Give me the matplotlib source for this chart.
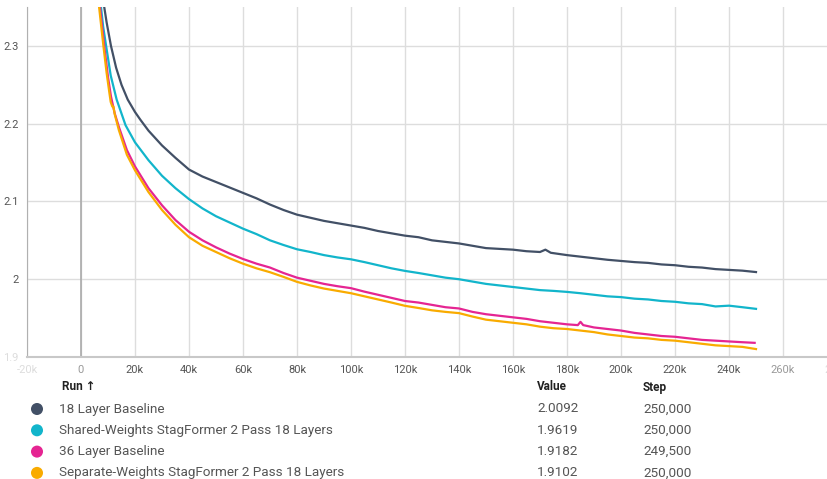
import matplotlib.pyplot as plt
from matplotlib.ticker import FuncFormatter

plt.rcParams['font.family'] = ['Roboto', 'DejaVu Sans']

runs = ["18 Layer Baseline",
        "Shared-Weights StagFormer 2 Pass 18 Layers",
        "36 Layer Baseline",
        "Separate-Weights StagFormer 2 Pass 18 Layers"]
colors = ["#425066", "#12b5cb", "#e52592", "#f9ab00"]
last_values = ["2.0092", "1.9619", "1.9182", "1.9102"]
last_steps = ["250,000", "250,000", "249,500", "250,000"]

# steps in thousands
steps_18 = [8.6, 9.5, 11.1, 13, 15, 17.3, 20, 22, 25, 30, 35, 40, 45, 50, 55, 60, 65, 70, 75, 80,
            85, 90, 95, 100, 105, 110, 115, 120, 125, 130, 135, 140, 145, 150, 155, 160, 165, 170,
            172, 174, 180, 185, 190, 195, 200, 205, 210, 215, 220, 225, 230, 235, 240, 245, 250]
loss_18 = [2.35, 2.33, 2.30, 2.272, 2.25, 2.231, 2.215, 2.205, 2.191, 2.172, 2.156, 2.141, 2.132,
           2.125, 2.118, 2.111, 2.104, 2.096, 2.089, 2.083, 2.079, 2.075, 2.072, 2.069, 2.066,
           2.062, 2.059, 2.056, 2.054, 2.050, 2.048, 2.046, 2.043, 2.040, 2.039, 2.038, 2.036,
           2.035, 2.038, 2.034, 2.031, 2.029, 2.027, 2.025, 2.0235, 2.022, 2.021, 2.019, 2.018,
           2.016, 2.015, 2.013, 2.012, 2.011, 2.0092]

steps_shared = [7.4, 8.2, 9.3, 11, 13.2, 16.5, 20, 25, 30, 35, 40, 45, 50, 55, 60, 65, 70, 75, 80,
                85, 90, 95, 100, 105, 110, 115, 120, 125, 130, 135, 140, 145, 150, 155, 160, 165,
                170, 175, 180, 185, 190, 195, 200, 205, 210, 215, 220, 225, 230, 235, 240, 245, 250]
loss_shared = [2.35, 2.325, 2.30, 2.262, 2.231, 2.198, 2.176, 2.153, 2.133, 2.117, 2.103, 2.091,
               2.081, 2.073, 2.065, 2.058, 2.050, 2.044, 2.0385, 2.035, 2.031, 2.028, 2.0256,
               2.022, 2.018, 2.014, 2.0107, 2.008, 2.005, 2.002, 2.000, 1.997, 1.994, 1.992,
               1.990, 1.988, 1.986, 1.985, 1.9837, 1.982, 1.980, 1.978, 1.977, 1.975, 1.974,
               1.972, 1.971, 1.969, 1.968, 1.965, 1.966, 1.964, 1.9619]

steps_36 = [7, 7.8, 8.6, 10, 11.1, 12.5, 14.1, 17, 20, 25, 30, 35, 40, 45, 50, 55, 60, 65, 70, 75,
            80, 85, 90, 95, 100, 105, 110, 115, 120, 125, 130, 135, 140, 145, 150, 155, 160, 165,
            170, 175, 180, 184, 185, 186, 190, 195, 200, 205, 210, 215, 220, 225, 230, 235, 240,
            245, 249.5]
loss_36 = [2.35, 2.325, 2.30, 2.26, 2.235, 2.213, 2.195, 2.166, 2.145, 2.117, 2.095, 2.076, 2.061,
           2.050, 2.041, 2.033, 2.026, 2.020, 2.015, 2.008, 2.002, 1.998, 1.994, 1.991, 1.9885,
           1.984, 1.980, 1.976, 1.972, 1.970, 1.967, 1.964, 1.9624, 1.958, 1.955, 1.953, 1.951,
           1.949, 1.946, 1.944, 1.942, 1.941, 1.9452, 1.941, 1.938, 1.936, 1.934, 1.931, 1.929,
           1.927, 1.926, 1.924, 1.922, 1.921, 1.920, 1.919, 1.9182]

steps_sep = [6.7, 7.5, 8.3, 9.5, 10.5, 11, 11.6, 12, 12.5, 14, 17, 20, 25, 30, 35, 40, 45, 50, 55,
             60, 65, 70, 75, 80, 85, 90, 95, 100, 105, 110, 115, 120, 125, 130, 135, 140, 145,
             150, 155, 160, 165, 170, 175, 180, 185, 190, 195, 200, 205, 210, 215, 220, 225, 230,
             235, 240, 245, 250]
loss_sep = [2.35, 2.325, 2.30, 2.265, 2.24, 2.228, 2.222, 2.222, 2.212, 2.192, 2.160, 2.140, 2.112,
            2.089, 2.070, 2.054, 2.043, 2.035, 2.027, 2.020, 2.014, 2.009, 2.003, 1.9966, 1.992,
            1.988, 1.985, 1.982, 1.978, 1.974, 1.970, 1.9658, 1.963, 1.960, 1.958, 1.9564, 1.952,
            1.948, 1.946, 1.944, 1.942, 1.939, 1.937, 1.936, 1.934, 1.932, 1.929, 1.927, 1.925,
            1.924, 1.922, 1.921, 1.919, 1.917, 1.915, 1.914, 1.913, 1.9102]

series = [(steps_18, loss_18), (steps_shared, loss_shared), (steps_36, loss_36), (steps_sep, loss_sep)]

W, H = 828, 479
fig = plt.figure(figsize=(W / 100, H / 100), dpi=100)
ax = fig.add_axes([27 / W, 1 - 357 / H, (837 - 27) / W, 350 / H])

for (xs, ys), c in zip(series, colors):
    ax.plot([x * 1000 for x in xs], ys, color=c, lw=1.6, solid_joinstyle='round', zorder=3)

ax.set_xlim(-20000, 280000)
ax.set_ylim(1.9, 2.35)
ax.set_xticks(range(-20000, 280001, 20000))
ax.set_yticks([1.9, 2.0, 2.1, 2.2, 2.3])
ax.xaxis.set_major_formatter(FuncFormatter(lambda v, p: "0" if v == 0 else f"{int(v / 1000)}k"))
ax.yaxis.set_major_formatter(FuncFormatter(lambda v, p: "2" if abs(v - 2) < 1e-9 else f"{v:.1f}"))
ax.grid(True, color="#dddddd", lw=1)
ax.axvline(0, color="#aaaaaa", lw=1.2, zorder=2)
ax.tick_params(length=0, labelsize=8, labelcolor="#555555", pad=6)
for s in ["top", "right"]:
    ax.spines[s].set_visible(False)
ax.spines["left"].set_color("#b0b0b0")
ax.spines["bottom"].set_color("#c8c8c8")
ax.spines["bottom"].set_linewidth(1.5)

for lbl, v in zip(ax.get_xticklabels(), ax.get_xticks()):
    if v < 0 or v > 270000:
        lbl.set_color("#dddddd")
    elif v == 0 or v == 260000:
        lbl.set_color("#999999")
for lbl, v in zip(ax.get_yticklabels(), ax.get_yticks()):
    if v < 1.95:
        lbl.set_color("#dddddd")

# run table below the chart
tab = fig.add_axes([0, 0, 1, 1], zorder=-1)
tab.set_xlim(0, W)
tab.set_ylim(H, 0)
tab.axis("off")
tab.text(62, 387, "Run \u2191", fontsize=8.5, fontweight="bold", color="#212121", va="center")
tab.text(537, 387, "Value", fontsize=8.5, fontweight="bold", color="#212121", va="center")
tab.text(643, 387, "Step", fontsize=8.5, fontweight="bold", color="#212121", va="center")
for i, (name, c, val, st) in enumerate(zip(runs, colors, last_values, last_steps)):
    y = 409 + i * 21.3
    tab.scatter([37], [y], s=75, color=c, edgecolors="none")
    tab.text(59, y, name, fontsize=9.7, color="#555555", va="center")
    tab.text(537, y, val, fontsize=9.7, color="#555555", va="center")
    tab.text(643, y, st, fontsize=9.7, color="#555555", va="center")

fig.savefig("out.png", dpi=100)
